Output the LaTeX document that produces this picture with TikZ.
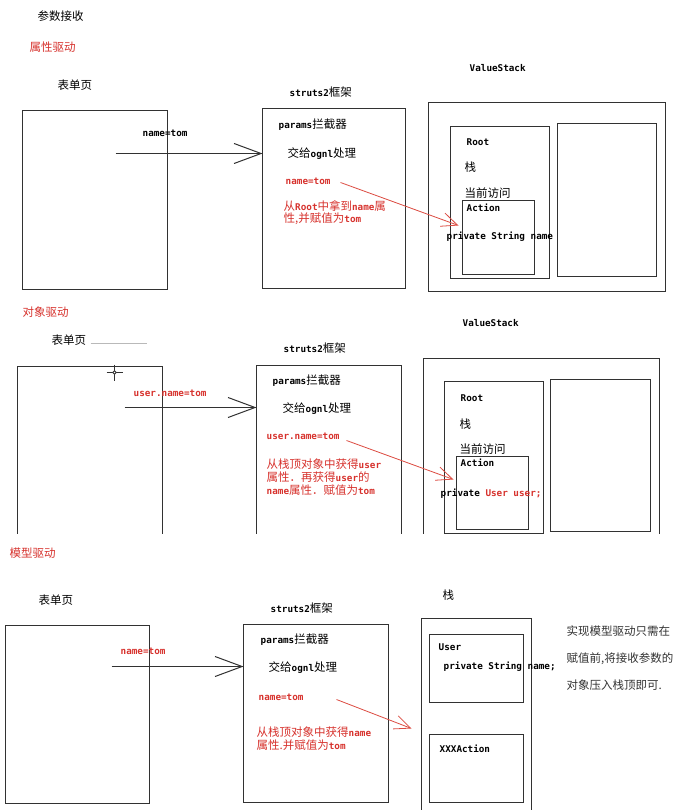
\documentclass[tikz,border=0pt]{standalone}
\usepackage{fontspec}
\newfontfamily\cjkfont{Noto Sans CJK SC}
\newfontfamily\monofont{DejaVu Sans Mono}
\usetikzlibrary{arrows.meta,fit}
\definecolor{lc}{RGB}{50,50,50}
\definecolor{myred}{RGB}{215,50,45}
\definecolor{redline}{RGB}{220,75,65}
\newcommand\en[1]{{\monofont\bfseries\fontsize{9.3}{11}\selectfont #1}}
\begin{document}
\begin{tikzpicture}[x=1pt,y=-1pt,
 box/.style={draw=lc,line width=1pt,inner sep=0pt,outer sep=0pt},
 openbox/.style={inner sep=0pt,outer sep=0pt},
 ln/.style={draw=lc,line width=1pt},
 lbl/.style={inner sep=0pt,anchor=west,font=\cjkfont\fontsize{11.5}{13}\selectfont},
 rl/.style={lbl,text=myred},
 blk/.style={rl,align=left},
 barrow/.style={draw=lc,line width=1pt,-{Straight Barb[length=27pt,width=20pt]}},
 rarrow/.style={draw=redline,line width=0.8pt,-{Straight Barb[length=16pt,width=14pt]}},
]
\useasboundingbox (0,0) rectangle (680,810);
\fill[white] (0,0) rectangle (680,810);
\begin{scope}[shift={(0.5,0.5)}]
% ---------------- Section 1 ----------------
\node[lbl] (t0) at (37,16) {参数接收};
\node[rl] (h1) at (29,47) {属性驱动};
\node[lbl] (fl1) at (57,85) {表单页};
\node[box,fit={(22,110) (167,289)}] (f1) {};
\node[lbl] (n1) at (142,133) {\en{name=tom}};
\node[lbl] (sl1) at (289,92) {\en{struts2}框架};
\node[box,fit={(262,108) (405,288)}] (s1) {};
\node[lbl] (p1) at (278,124) {\en{params}拦截器};
\node[lbl] (o1) at (287,153) {交给\en{ognl}处理};
\node[rl] (rn1) at (285,181) {\en{name=tom}};
\node[blk] (rb1) at (283,212) {从\en{Root}中拿到\en{name}属\\[-1.5pt]性,并赋值为\en{tom}};
\node[lbl] (vs1) at (469,68) {\en{ValueStack}};
\node[box,fit={(428,102) (665,291)}] (v1) {};
\node[box,fit={(450,126) (549,278)}] (root1) {};
\node[box,fit={(557,123) (656,276)}] (rb1box) {};
\node[lbl] (rt1) at (466,142) {\en{Root}};
\node[lbl] (z1) at (464,167) {栈};
\node[lbl] (c1) at (464,193) {当前访问};
\node[box,fit={(462,200) (534,274)}] (act1) {};
\node[lbl] (at1) at (466,207) {\en{Action}};
\node[lbl] (pv1) at (446,236) {\en{private String name}};
\coordinate (a1) at (115,153);
\draw[barrow] (a1) -- (a1 -| s1.west);
\coordinate (r1s) at (340,182);
\coordinate (r1e) at (458,225);
\draw[rarrow] (r1s) -- (r1e);

% ---------------- Section 2 ----------------
\node[rl] (h2) at (22,312) {对象驱动};
\node[lbl] (fl2) at (51,340) {表单页};
\draw[gray!55,line width=0.8pt] (90,343) -- (146,343);
\node[openbox,fit={(17,366) (162,533)}] (f2) {};
\draw[ln] (f2.south west) |- (f2.north east) -- (f2.south east);
\draw[lc,line width=0.8pt] (106,372) -- (122,372) (114,364) -- (114,380);
\draw[lc,line width=0.8pt,fill=white] (114,372) circle (1.8pt);
\node[rl] (n2) at (133,393) {\en{user.name=tom}};
\node[lbl] (sl2) at (283,348) {\en{struts2}框架};
\node[openbox,fit={(256,365) (401,533)}] (s2) {};
\draw[ln] (s2.south west) |- (s2.north east) -- (s2.south east);
\node[lbl] (p2) at (272,380) {\en{params}拦截器};
\node[lbl] (o2) at (282,408) {交给\en{ognl}处理};
\node[rl] (rn2) at (266,436) {\en{user.name=tom}};
\node[blk] (rb2) at (266,477) {从栈顶对象中获得\en{user}\\属性．再获得\en{user}的\\\en{name}属性．赋值为\en{tom}};
\node[lbl] (vs2) at (462,323) {\en{ValueStack}};
\node[openbox,fit={(423,358) (659,533)}] (v2) {};
\draw[ln] (v2.south west) |- (v2.north east) -- (v2.south east);
\node[box,fit={(444,381) (543,533)}] (root2) {};
\node[box,fit={(550,379) (650,531)}] (rb2box) {};
\node[lbl] (rt2) at (460,398) {\en{Root}};
\node[lbl] (z2) at (459,424) {栈};
\node[lbl] (c2) at (459,449) {当前访问};
\node[box,fit={(456,456) (528,529)}] (act2) {};
\node[lbl] (at2) at (460,462) {\en{Action}};
\node[lbl] (pv2) at (440,493) {\en{private }\textcolor{myred}{\en{User user;}}};
\coordinate (a2) at (124,407);
\draw[barrow] (a2) -- (a2 -| s2.west);
\coordinate (r2s) at (346,440);
\coordinate (r2e) at (453,479);
\draw[rarrow] (r2s) -- (r2e);

% ---------------- Section 3 ----------------
\node[rl] (h3) at (9,553) {模型驱动};
\node[lbl] (fl3) at (38,600) {表单页};
\node[box,fit={(5,625) (149,803)}] (f3) {};
\node[rl] (n3) at (120,651) {\en{name=tom}};
\node[lbl] (sl3) at (270,608) {\en{struts2}框架};
\node[box,fit={(243,624) (388,802)}] (s3) {};
\node[lbl] (p3) at (260,639) {\en{params}拦截器};
\node[lbl] (o3) at (268,667) {交给\en{ognl}处理};
\node[rl] (rn3) at (258,697) {\en{name=tom}};
\node[blk] (rb3) at (256,738) {从栈顶对象中获得\en{name}\\属性.并赋值为\en{tom}};
\node[lbl] (zl3) at (442,595) {栈};
\node[openbox,fit={(421,618) (531,810)}] (st3) {};
\draw[ln] (st3.south west) |- (st3.north east) -- (st3.south east);
\node[box,fit={(429,634) (523,702)}] (user3) {};
\node[lbl] (u3) at (438,647) {\en{User}};
\node[lbl] (pv3) at (443,666) {\en{private String name;}};
\node[box,fit={(429,734) (523,802)}] (xa3) {};
\node[lbl] (xt3) at (439,748) {\en{XXXAction}};
\node[lbl,text=black!80] (d1) at (566,631) {实现模型驱动只需在};
\node[lbl,text=black!80] (d2) at (566,658) {赋值前,将接收参数的};
\node[lbl,text=black!80] (d3) at (566,685) {对象压入栈顶即可.};
\coordinate (a3) at (111,666);
\draw[barrow] (a3) -- (a3 -| s3.west);
\coordinate (r3s) at (336,699);
\coordinate (r3e) at (411,728);
\draw[rarrow] (r3s) -- (r3e);
\end{scope}
\end{tikzpicture}
\end{document}
